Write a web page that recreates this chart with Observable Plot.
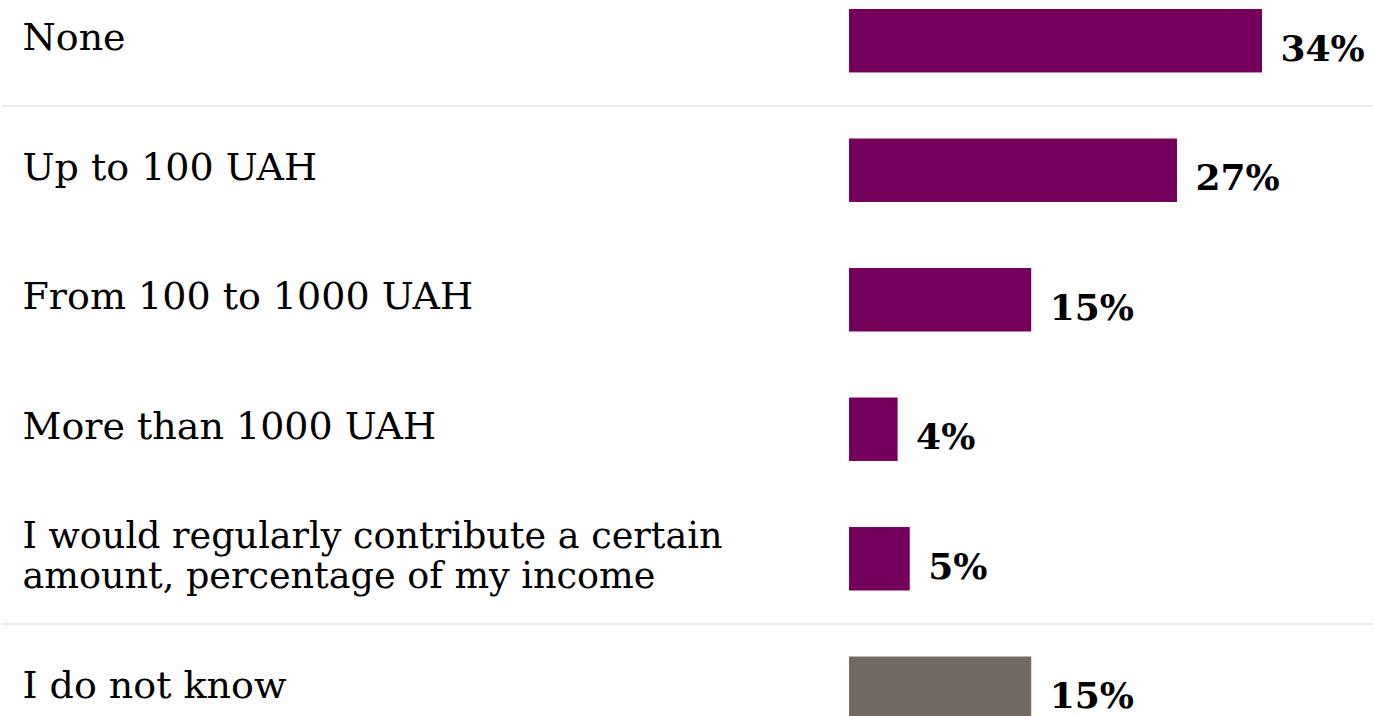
<!DOCTYPE html>
<html>
<head>
<meta charset="utf-8">
<script src="https://cdn.jsdelivr.net/npm/d3@7"></script>
<script src="https://cdn.jsdelivr.net/npm/@observablehq/plot@0.6"></script>
<style>
  html, body { margin: 0; padding: 0; background: #fff; overflow: hidden; }
  #chart svg { display: block; }
</style>
</head>
<body>
<div id="chart"></div>
<script>
const categories = [
  "None",
  "Up to 100 UAH",
  "From 100 to 1000 UAH",
  "More than 1000 UAH",
  "I would regularly contribute a certain\namount, percentage of my income",
  "I do not know"
];
const values = [34, 27, 15, 4, 5, 15];
const groups = ["answer", "answer", "answer", "answer", "answer", "unknown"];
const separatorsAfter = ["None", "I would regularly contribute a certain\namount, percentage of my income"];

const data = categories.map((c, i) => ({category: c, value: values[i], group: groups[i]}));

const W = 1373, H = 716;
const serif = "'DejaVu Serif', 'Liberation Serif', serif";

const plot = Plot.plot({
  width: W,
  height: H,
  marginLeft: 22,
  marginRight: 0,
  marginTop: 0,
  marginBottom: 0,
  style: {background: "#fff", fontFamily: serif, color: "#000"},
  x: {domain: [0, 34], range: [849, 1262], axis: null},
  y: {domain: categories, range: [9, 720], paddingInner: 0.51, paddingOuter: 0, axis: null, round: false},
  color: {domain: ["answer", "unknown"], range: ["#75005b", "#736963"]},
  marks: [
    Plot.ruleY(separatorsAfter, {y: d => d, dy: 64.7, stroke: "#e3e3e3", strokeWidth: 1.5, insetLeft: -20}),
    Plot.barX(data, {y: "category", x: "value", fill: "group"}),
    Plot.text(data, {
      y: "category", text: "category", frameAnchor: "left", textAnchor: "start",
      fontSize: 38, lineHeight: 1.053, dy: -4, fill: "#000", fontFamily: serif
    }),
    Plot.text(data, {
      y: "category", x: "value", text: d => d.value + "%", textAnchor: "start",
      dx: 18, dy: 8, fontSize: 36, fontWeight: "bold", fill: "#000", fontFamily: serif
    })
  ]
});

document.getElementById("chart").appendChild(plot);

// condense the two-line label horizontally, as in the original
const tsp = Array.from(plot.querySelectorAll("tspan"));
const first = tsp.find(t => t.textContent.startsWith("I would regularly"));
const second = tsp.find(t => t.textContent.startsWith("amount,"));
if (first && second) {
  const w1 = first.getComputedTextLength();
  const w2 = second.getComputedTextLength();
  const k = 700 / w1;
  first.setAttribute("textLength", 700);
  first.setAttribute("lengthAdjust", "spacingAndGlyphs");
  second.setAttribute("textLength", w2 * k);
  second.setAttribute("lengthAdjust", "spacingAndGlyphs");
}
</script>
</body>
</html>
